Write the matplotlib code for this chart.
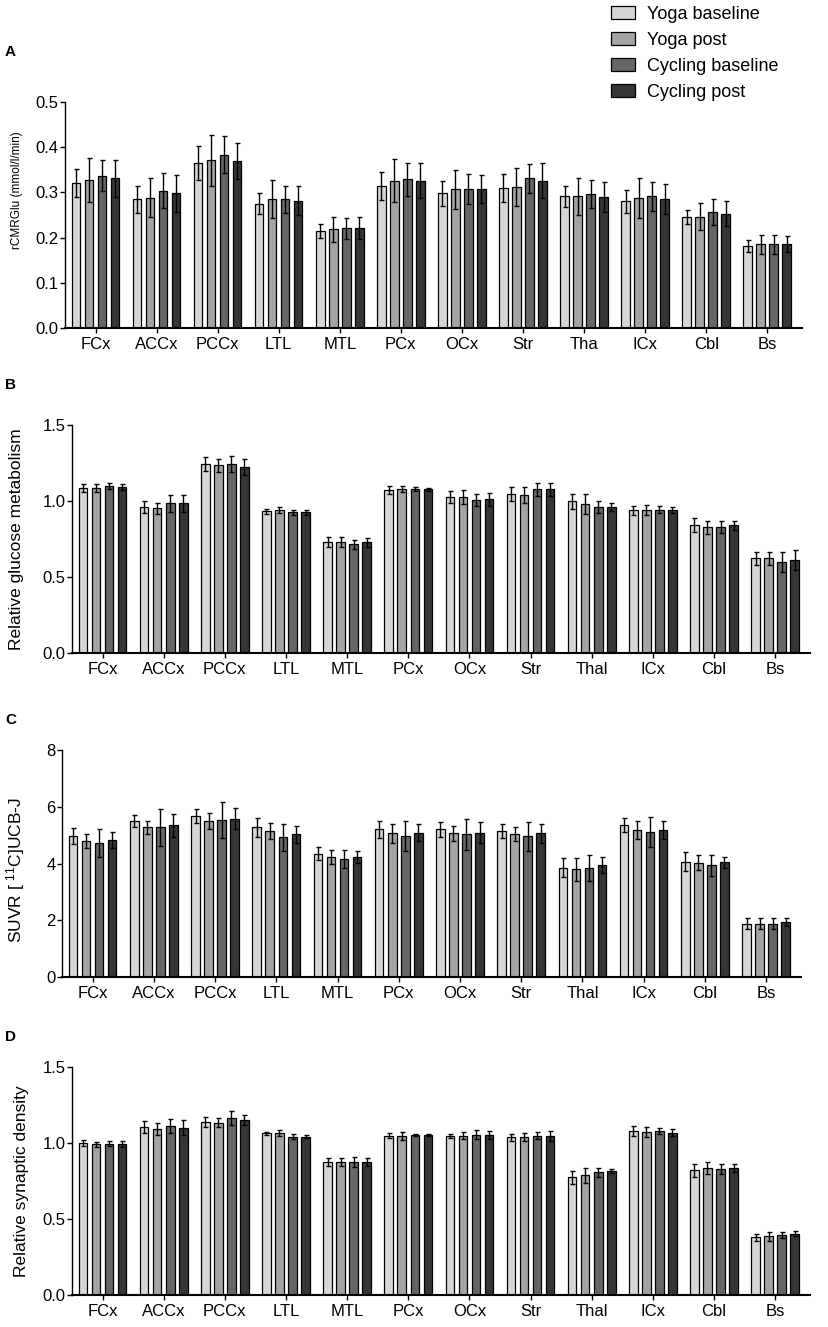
import numpy as np
from matplotlib import pyplot as plt

plt.rcParams['font.family'] = ['Liberation Sans', 'DejaVu Sans']
plt.rcParams['mathtext.default'] = 'regular'

groups = ['Yoga baseline', 'Yoga post', 'Cycling baseline', 'Cycling post']
colors = ['#d6d6d6', '#a4a4a4', '#666666', '#363636']

regions_a = ['FCx', 'ACCx', 'PCCx', 'LTL', 'MTL', 'PCx', 'OCx', 'Str', 'Tha', 'ICx', 'Cbl', 'Bs']
regions = ['FCx', 'ACCx', 'PCCx', 'LTL', 'MTL', 'PCx', 'OCx', 'Str', 'Thal', 'ICx', 'Cbl', 'Bs']

# A - rCMRGlu, one row per group (yoga base, yoga post, cycling base, cycling post)
rcmrglu = [[0.320, 0.285, 0.365, 0.275, 0.215, 0.315, 0.298, 0.309, 0.291, 0.280, 0.246, 0.182],
           [0.328, 0.288, 0.371, 0.285, 0.218, 0.326, 0.307, 0.312, 0.291, 0.287, 0.246, 0.185],
           [0.337, 0.304, 0.383, 0.285, 0.221, 0.329, 0.308, 0.331, 0.296, 0.291, 0.256, 0.185],
           [0.331, 0.298, 0.370, 0.282, 0.221, 0.326, 0.307, 0.326, 0.290, 0.285, 0.253, 0.186]]
rcmrglu_sd = [[0.031, 0.030, 0.038, 0.023, 0.015, 0.031, 0.028, 0.031, 0.023, 0.025, 0.016, 0.013],
              [0.049, 0.043, 0.056, 0.042, 0.028, 0.048, 0.043, 0.042, 0.040, 0.044, 0.030, 0.021],
              [0.034, 0.038, 0.041, 0.030, 0.023, 0.036, 0.033, 0.032, 0.031, 0.033, 0.029, 0.021],
              [0.041, 0.041, 0.040, 0.033, 0.025, 0.038, 0.031, 0.039, 0.033, 0.033, 0.028, 0.018]]

# B - relative glucose metabolism
rel_glu = [[1.083, 0.960, 1.243, 0.931, 0.729, 1.072, 1.026, 1.045, 0.997, 0.940, 0.843, 0.622],
           [1.087, 0.953, 1.234, 0.940, 0.729, 1.076, 1.026, 1.041, 0.980, 0.940, 0.826, 0.622],
           [1.098, 0.984, 1.243, 0.925, 0.716, 1.078, 1.006, 1.076, 0.960, 0.944, 0.830, 0.600],
           [1.092, 0.984, 1.223, 0.925, 0.729, 1.076, 1.012, 1.078, 0.958, 0.940, 0.839, 0.611]]
rel_glu_sd = [[0.026, 0.039, 0.044, 0.018, 0.033, 0.024, 0.041, 0.047, 0.051, 0.029, 0.044, 0.044],
              [0.027, 0.037, 0.040, 0.018, 0.033, 0.020, 0.046, 0.053, 0.065, 0.033, 0.044, 0.041],
              [0.018, 0.055, 0.053, 0.017, 0.029, 0.011, 0.039, 0.040, 0.037, 0.025, 0.040, 0.065],
              [0.017, 0.055, 0.051, 0.017, 0.029, 0.011, 0.042, 0.042, 0.026, 0.020, 0.031, 0.068]]

# C - SUVR [11C]UCB-J
suvr = [[4.97, 5.50, 5.67, 5.27, 4.35, 5.20, 5.20, 5.14, 3.85, 5.36, 4.06, 1.88],
        [4.79, 5.27, 5.50, 5.14, 4.23, 5.07, 5.06, 5.03, 3.79, 5.19, 4.03, 1.88],
        [4.71, 5.27, 5.54, 4.92, 4.16, 4.98, 5.03, 4.96, 3.83, 5.12, 3.93, 1.88],
        [4.83, 5.34, 5.58, 5.03, 4.23, 5.09, 5.09, 5.06, 3.95, 5.19, 4.04, 1.93]]
suvr_sd = [[0.27, 0.22, 0.25, 0.32, 0.22, 0.31, 0.27, 0.24, 0.33, 0.25, 0.34, 0.19],
           [0.26, 0.24, 0.29, 0.29, 0.23, 0.33, 0.27, 0.24, 0.39, 0.32, 0.26, 0.19],
           [0.49, 0.64, 0.64, 0.48, 0.33, 0.53, 0.54, 0.51, 0.46, 0.53, 0.38, 0.19],
           [0.29, 0.41, 0.36, 0.29, 0.21, 0.29, 0.38, 0.34, 0.28, 0.32, 0.19, 0.15]]

# D - relative synaptic density
rel_syn = [[1.000, 1.105, 1.140, 1.064, 0.875, 1.048, 1.048, 1.037, 0.774, 1.079, 0.820, 0.379],
           [0.991, 1.092, 1.134, 1.064, 0.875, 1.048, 1.048, 1.039, 0.787, 1.072, 0.836, 0.386],
           [0.996, 1.110, 1.164, 1.042, 0.875, 1.053, 1.055, 1.048, 0.807, 1.081, 0.831, 0.395],
           [0.993, 1.101, 1.149, 1.042, 0.875, 1.053, 1.053, 1.046, 0.816, 1.068, 0.836, 0.404]]
rel_syn_sd = [[0.018, 0.040, 0.033, 0.011, 0.024, 0.018, 0.013, 0.022, 0.042, 0.031, 0.044, 0.025],
              [0.018, 0.037, 0.030, 0.019, 0.024, 0.027, 0.024, 0.025, 0.049, 0.033, 0.039, 0.031],
              [0.019, 0.046, 0.047, 0.015, 0.031, 0.004, 0.028, 0.022, 0.029, 0.020, 0.033, 0.019],
              [0.022, 0.050, 0.033, 0.011, 0.026, 0.004, 0.026, 0.031, 0.015, 0.022, 0.026, 0.017]]

W, H = 829, 1327
fig = plt.figure(figsize=(W / 100, H / 100), dpi=100)


def make_ax(left, right, top, bottom):
    # pixel box -> figure fraction
    return fig.add_axes([left / W, 1 - bottom / H, (right - left) / W, (bottom - top) / H])


def panel(ax, labels, means, sds, ymax, step, fmt):
    x = np.arange(len(labels))
    pitch = 0.213
    bars = []
    for i in range(4):
        pos = x + (i - 1.5) * pitch
        b = ax.bar(pos, means[i], width=0.14, color=colors[i], edgecolor='black',
                   linewidth=0.9, zorder=2, label=groups[i])
        ax.errorbar(pos, means[i], yerr=sds[i], fmt='none', ecolor='black',
                    elinewidth=1.0, capsize=1.8, capthick=1.0, zorder=3)
        bars.append(b)
    ax.set_xlim(-0.5, 11.57)
    ax.set_ylim(0, ymax)
    ax.set_xticks(x)
    ax.set_xticklabels(labels, fontsize=12)
    ticks = np.arange(0, ymax + step / 2, step)
    ax.set_yticks(ticks)
    ax.set_yticklabels([fmt.format(t) for t in ticks], fontsize=12)
    for s in ['top', 'right']:
        ax.spines[s].set_visible(False)
    ax.spines['left'].set_linewidth(1.0)
    ax.spines['bottom'].set_linewidth(1.5)
    ax.tick_params(axis='y', length=3.5, width=1.0, pad=1)
    ax.tick_params(axis='x', length=3.5, width=1.0, pad=3)
    return bars


axA = make_ax(65, 802, 102, 328)
bars = panel(axA, regions_a, rcmrglu, rcmrglu_sd, 0.5, 0.1, '{:.1f}')
axA.set_ylabel('rCMRGlu (mmol/l/min)', fontsize=8.5)
axA.yaxis.set_label_coords(-0.057, 0.61)

axB = make_ax(72, 810, 425, 653)
panel(axB, regions, rel_glu, rel_glu_sd, 1.5, 0.5, '{:.1f}')
axB.set_ylabel('Relative glucose metabolism', fontsize=12.5)
axB.yaxis.set_label_coords(-0.065, 0.5)

axC = make_ax(62, 801, 750, 977)
panel(axC, regions, suvr, suvr_sd, 8, 2, '{:.0f}')
axC.set_ylabel('SUVR [ $^{11}$C]UCB-J', fontsize=12.5)
axC.yaxis.set_label_coords(-0.047, 0.47)

axD = make_ax(72, 810, 1067, 1295)
panel(axD, regions, rel_syn, rel_syn_sd, 1.5, 0.5, '{:.1f}')
axD.set_ylabel('Relative synaptic density', fontsize=12.5)
axD.yaxis.set_label_coords(-0.058, 0.5)

# panel letters
for letter, ypix in [('A', 52), ('B', 385), ('C', 720), ('D', 1037)]:
    fig.text(5 / W, 1 - ypix / H, letter, ha='left', va='center',
             fontsize=11, fontweight='bold')

fig.legend(bars, groups, loc='upper left', bbox_to_anchor=(611 / W, 1 - 6 / H),
           frameon=False, fontsize=13, handlelength=1.35, handleheight=0.7,
           handletextpad=0.65, labelspacing=0.5, borderpad=0, borderaxespad=0)

fig.savefig('out.png', dpi=100)
